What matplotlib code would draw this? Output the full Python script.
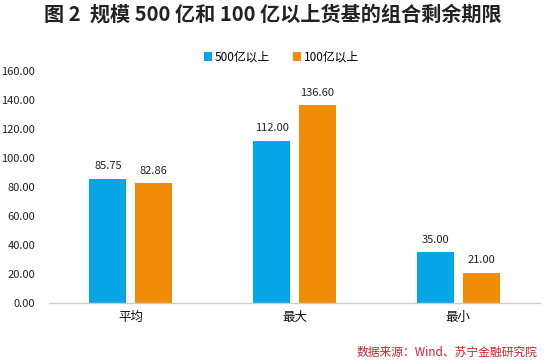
import matplotlib
matplotlib.use("Agg")
import matplotlib.pyplot as plt
import numpy as np

plt.rcParams['font.family'] = ['Noto Sans CJK SC', 'DejaVu Sans']

categories = ['平均', '最大', '最小']
series_names = ['500亿以上', '100亿以上']
vals_500 = [85.75, 112.00, 35.00]
vals_100 = [82.86, 136.60, 21.00]
yticks = [0, 20, 40, 60, 80, 100, 120, 140, 160]

colors = ['#05A6E6', '#F08C05']

fig = plt.figure(figsize=(5.46, 3.64), dpi=100)
ax = fig.add_axes([0.0897, 0.1676, 0.8993, 0.6374])

x = np.arange(len(categories))
w = 0.226
off = 0.14
b1 = ax.bar(x - off, vals_500, w, color=colors[0], label=series_names[0])
b2 = ax.bar(x + off, vals_100, w, color=colors[1], label=series_names[1])

for bars, vals in ((b1, vals_500), (b2, vals_100)):
    for r, v in zip(bars, vals):
        ax.text(r.get_x() + r.get_width() / 2, v + 5, f'{v:.2f}', ha='center', va='bottom',
                fontsize=8, color='#222222')

ax.set_xlim(-0.5, 2.5)
ax.set_ylim(0, 160)
ax.set_yticks(yticks)
ax.set_yticklabels([f'{t:.2f}' for t in yticks], fontsize=8, color='#222222')
ax.set_xticks(x)
ax.set_xticklabels(categories, fontsize=9, color='#111111')
ax.tick_params(axis='both', length=0)
ax.tick_params(axis='y', pad=10)
ax.tick_params(axis='x', pad=6)
for s in ['top', 'right', 'left']:
    ax.spines[s].set_visible(False)
ax.spines['bottom'].set_color('#cccccc')
ax.spines['bottom'].set_linewidth(1.0)

leg = fig.legend(handles=[b1, b2], labels=series_names, loc='center', bbox_to_anchor=(0.515, 0.843),
                 ncol=2, frameon=False, fontsize=8.5, handlelength=0.7, handleheight=0.7,
                 columnspacing=2.0, handletextpad=0.2)

fig.text(0.5, 0.962, '图 2  规模 500 亿和 100 亿以上货基的组合剩余期限', ha='center', va='center',
         fontsize=14.5, fontweight='bold', color='#222222')
fig.text(0.985, 0.033, '数据来源：Wind、苏宁金融研究院', ha='right', va='center', fontsize=8.5,
         color='#D0202A', style='italic')

fig.savefig('out.png', dpi=100)
